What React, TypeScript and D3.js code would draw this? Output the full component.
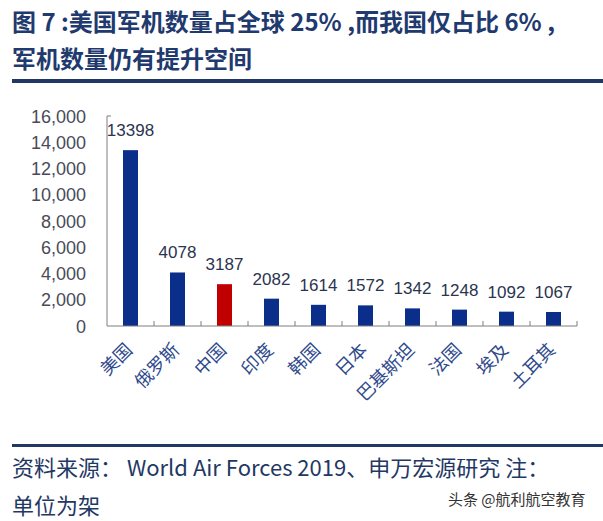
import React from "react";
import * as d3 from "d3";

const categories = ["美国", "俄罗斯", "中国", "印度", "韩国", "日本", "巴基斯坦", "法国", "埃及", "土耳其"];
const values = [13398, 4078, 3187, 2082, 1614, 1572, 1342, 1248, 1092, 1067];
const highlight = ["中国"];
const yTicks = [0, 2000, 4000, 6000, 8000, 10000, 12000, 14000, 16000];
const titleLines = ["图 7 :美国军机数量占全球 25% ,而我国仅占比 6% ,", "军机数量仍有提升空间"];
const footerLines = ["资料来源： World Air Forces 2019、申万宏源研究 注：", "单位为架"];
const watermark = "头条 @航利航空教育";

export default function App() {
  const W = 603, H = 521;
  const x0 = 107, x1 = 577, yTop = 116, yBot = 326;
  const x = d3.scaleBand<string>().domain(categories).range([x0, x1]).paddingInner(0).paddingOuter(0);
  const y = d3.scaleLinear().domain([0, 16000]).range([yBot, yTop]);
  const bw = 15;
  const fmt = d3.format(",");
  const num = "'Liberation Sans', Arial, sans-serif";
  const cjk = "'Noto Sans CJK SC', sans-serif";
  return (
    <svg width={W} height={H} style={{ position: "absolute", left: 0, top: 0, background: "#fff" }}>
      <rect width={W} height={H} fill="#fff" />
      {titleLines.map((t, i) => (
        <text key={i} x={12} y={31 + i * 37} fontFamily={cjk} fontWeight={700} fontSize={24} fill="#1f3a6e">{t}</text>
      ))}
      <rect x={12} y={79} width={W - 12} height={4} fill="#1f3864" />
      {/* y axis */}
      <line x1={x0} x2={x0} y1={yTop} y2={yBot} stroke="#7f7f7f" strokeWidth={1} />
      <line x1={x0} x2={x0 + 4} y1={yTop} y2={yTop} stroke="#7f7f7f" strokeWidth={1} />
      {yTicks.map((t) => (
        <text key={t} x={86} y={y(t) + 6.5} textAnchor="end" fontFamily={num} fontSize={18} fill="#4a4a5a">{fmt(t)}</text>
      ))}
      {/* bars */}
      {categories.map((c, i) => {
        const cx = (x(c) as number) + x.bandwidth() / 2;
        const v = values[i];
        return (
          <g key={c}>
            <rect x={cx - bw / 2} y={y(v)} width={bw} height={yBot - y(v)} fill={highlight.includes(c) ? "#c00000" : "#0a2e8a"} />
            <text x={cx} y={y(v) - 14} textAnchor="middle" fontFamily={num} fontSize={17} fill="#2b3450">{v}</text>
            <text transform={`translate(${cx + 3},${yBot + 25}) rotate(-45)`} textAnchor="end" fontFamily={cjk} fontSize={18} fill="#2f4a8c">{c}</text>
          </g>
        );
      })}
      {/* x axis */}
      <line x1={x0} x2={x1} y1={yBot} y2={yBot} stroke="#7f7f7f" strokeWidth={1} />
      {categories.map((c) => {
        const xe = (x(c) as number) + x.bandwidth();
        return <line key={c} x1={xe} x2={xe} y1={yBot} y2={yBot - 5} stroke="#7f7f7f" strokeWidth={1} />;
      })}
      <rect x={12} y={444} width={W - 12} height={3} fill="#1f3864" />
      {footerLines.map((t, i) => (
        <text key={i} x={12} y={476 + i * 38} fontFamily={cjk} fontSize={22} fill="#1f3864">{t}</text>
      ))}
      <text x={448} y={505} fontFamily={cjk} fontSize={15} fill="#333">{watermark}</text>
    </svg>
  );
}
